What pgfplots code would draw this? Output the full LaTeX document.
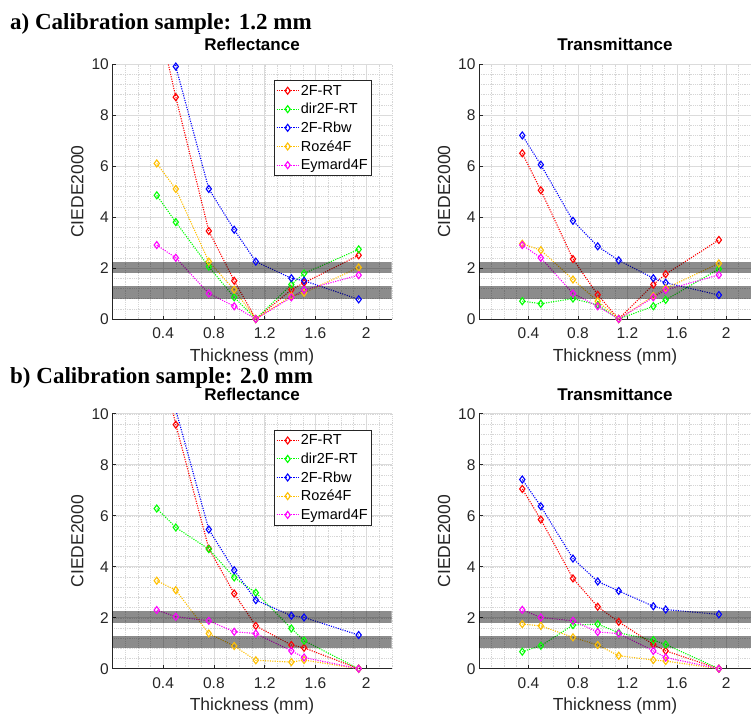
\documentclass[border=0pt]{standalone}
\usepackage{pgfplots}
\pgfplotsset{compat=1.18}
\usepackage{pgfplotstable}
\usepackage{fontspec}
\setmainfont{Liberation Sans}
\newfontfamily\serifb{Liberation Serif}
\definecolor{axc}{rgb}{0.15,0.15,0.15}
\definecolor{cR}{rgb}{1,0,0}
\definecolor{cG}{rgb}{0,1,0}
\definecolor{cB}{rgb}{0,0,1}
\definecolor{cO}{rgb}{1,0.75,0}
\definecolor{cM}{rgb}{1,0,1}

% columns: x, 2F-RT, dir2F-RT, 2F-Rbw, Roze4F, Eymard4F
\pgfplotstableread{
x    r     g     b     o     m
0.35 12.0  4.85  20.0  6.10  2.90
0.50 8.70  3.80  9.90  5.10  2.40
0.76 3.45  2.05  5.10  2.25  1.00
0.96 1.50  0.85  3.50  1.15  0.50
1.13 0.00  0.00  2.25  0.00  0.00
1.41 1.15  1.35  1.60  0.90  0.85
1.51 1.42  1.79  1.50  1.03  1.14
1.94 2.50  2.73  0.77  2.02  1.72
}\aR
\pgfplotstableread{
x    r     g     b     o     m
0.35 6.50  0.70  7.20  2.95  2.90
0.50 5.05  0.60  6.05  2.70  2.40
0.76 2.35  0.80  3.85  1.55  1.00
0.96 0.95  0.55  2.85  0.70  0.50
1.13 0.00  0.00  2.30  0.00  0.00
1.41 1.35  0.50  1.60  0.90  0.85
1.51 1.76  0.75  1.42  1.20  1.14
1.94 3.10  1.96  0.94  2.18  1.73
}\aT
\pgfplotstableread{
x    r     g     b     o     m
0.35 12.8  6.28  16.0  3.45  2.30
0.50 9.57  5.54  10.15 3.08  2.04
0.76 4.71  4.69  5.46  1.38  1.88
0.96 2.95  3.58  3.86  0.89  1.45
1.13 1.68  2.98  2.69  0.33  1.38
1.41 0.93  1.58  2.08  0.26  0.70
1.51 0.82  1.10  2.01  0.34  0.44
1.94 0.00  0.00  1.32  0.00  0.00
}\bR
\pgfplotstableread{
x    r     g     b     o     m
0.35 7.05  0.67  7.42  1.75  2.31
0.50 5.85  0.90  6.37  1.68  2.01
0.76 3.54  1.71  4.32  1.23  1.88
0.96 2.43  1.75  3.42  0.93  1.44
1.13 1.84  1.41  3.05  0.51  1.38
1.41 0.95  1.12  2.45  0.34  0.70
1.51 0.70  0.95  2.32  0.30  0.44
1.94 0.00  0.00  2.13  0.00  0.00
}\bT

\pgfplotsset{
  myax/.style={
    scale only axis, height=255pt,
    xmin=0, xmax=2.2, ymin=0, ymax=10,
    xtick={0,0.4,0.8,1.2,1.6,2}, xticklabels={,0.4,0.8,1.2,1.6,2},
    ytick={0,2,4,6,8,10},
    minor xtick={0.1,0.2,...,2.2},
    minor ytick={0.4,0.8,...,10},
    grid=both,
    major grid style={color=black!14, line width=0.5pt},
    minor grid style={color=black!16, dash pattern=on 0.6pt off 1.2pt, line width=0.4pt},
    axis x line*=bottom, axis y line*=left,
    axis line style={color=axc, line width=0.6pt, -},
    tick align=inside, major tick length=3.5pt, minor tick length=0pt,
    tick style={color=axc, line width=0.6pt},
    ticklabel style={font=\fontsize{15.5}{15.5}\selectfont, text=axc},
    /pgf/number format/assume math mode=true,
    xticklabel style={yshift=-5pt},
    yticklabel style={xshift=0pt},
    xlabel={Thickness (mm)}, ylabel={CIEDE2000},
    xlabel style={at={([yshift=-42pt]axis description cs:0.5,0)}, anchor=base,
      font=\fontsize{17.5}{17.5}\selectfont, text=axc},
    ylabel style={at={([xshift=-29pt]axis description cs:0,0.5)}, anchor=base, rotate=0,
      font=\fontsize{17.5}{17.5}\selectfont, text=axc},
    title style={at={([yshift=7.5pt]axis description cs:0.5,1)}, anchor=base,
      font=\bfseries\fontsize{17}{17}\selectfont, text=black},
    legend cell align=left,
    legend style={at={(0.928,0.937)}, anchor=north east,
      font=\fontsize{14.5}{14.5}\selectfont, draw=axc, line width=0.6pt, fill=white,
      inner xsep=2pt, inner ysep=3pt, row sep=3.4pt,
      nodes={inner sep=1.6pt}},
    legend image code/.code={\draw[mark repeat=2,mark phase=2,##1] plot coordinates {(0pt,0pt)(11pt,0pt)(22pt,0pt)};},
  },
  ser/.style={color=#1, dash pattern=on 1.1pt off 1.3pt, line width=1.1pt,
    mark=diamond, mark size=3.5pt, mark options={solid, line width=1.1pt, fill=none}},
  band/.style={fill=black, fill opacity=0.45, draw=none, forget plot},
}

\newcommand{\series}[1]{%
  \addplot[ser=cR] table[x=x,y=r] {#1};
  \addplot[ser=cG] table[x=x,y=g] {#1};
  \addplot[ser=cB] table[x=x,y=b] {#1};
  \addplot[ser=cO] table[x=x,y=o] {#1};
  \addplot[ser=cM] table[x=x,y=m] {#1};
  \addplot[band] coordinates {(0,1.8) (2.2,1.8) (2.2,2.25) (0,2.25)} -- cycle;
  \addplot[band] coordinates {(0,0.8) (2.2,0.8) (2.2,1.28) (0,1.28)} -- cycle;
}

\begin{document}
\begin{tikzpicture}
\useasboundingbox (0pt,0pt) rectangle (751pt,-715pt);
\node[anchor=base west, inner sep=0pt, font=\serifb\bfseries\fontsize{23}{23}\selectfont] at (10pt,-29pt) {a) Calibration sample: 1.2 mm};
\node[anchor=base west, inner sep=0pt, font=\serifb\bfseries\fontsize{23}{23}\selectfont] at (10pt,-383pt) {b) Calibration sample: 2.0 mm};

\begin{axis}[myax, width=279.4pt, at={(112.3pt,-319pt)}, anchor=south west, title={Reflectance}]
\series{\aR}
\legend{2F-RT,dir2F-RT,2F-Rbw,Rozé4F,Eymard4F}
\end{axis}

\begin{axis}[myax, width=272pt, at={(479pt,-319pt)}, anchor=south west, title={Transmittance}]
\series{\aT}
\end{axis}

\begin{axis}[myax, width=279.4pt, at={(112.3pt,-668.7pt)}, anchor=south west, title={Reflectance}]
\series{\bR}
\legend{2F-RT,dir2F-RT,2F-Rbw,Rozé4F,Eymard4F}
\end{axis}

\begin{axis}[myax, width=272pt, at={(479pt,-668.7pt)}, anchor=south west, title={Transmittance}]
\series{\bT}
\end{axis}
\end{tikzpicture}
\end{document}
